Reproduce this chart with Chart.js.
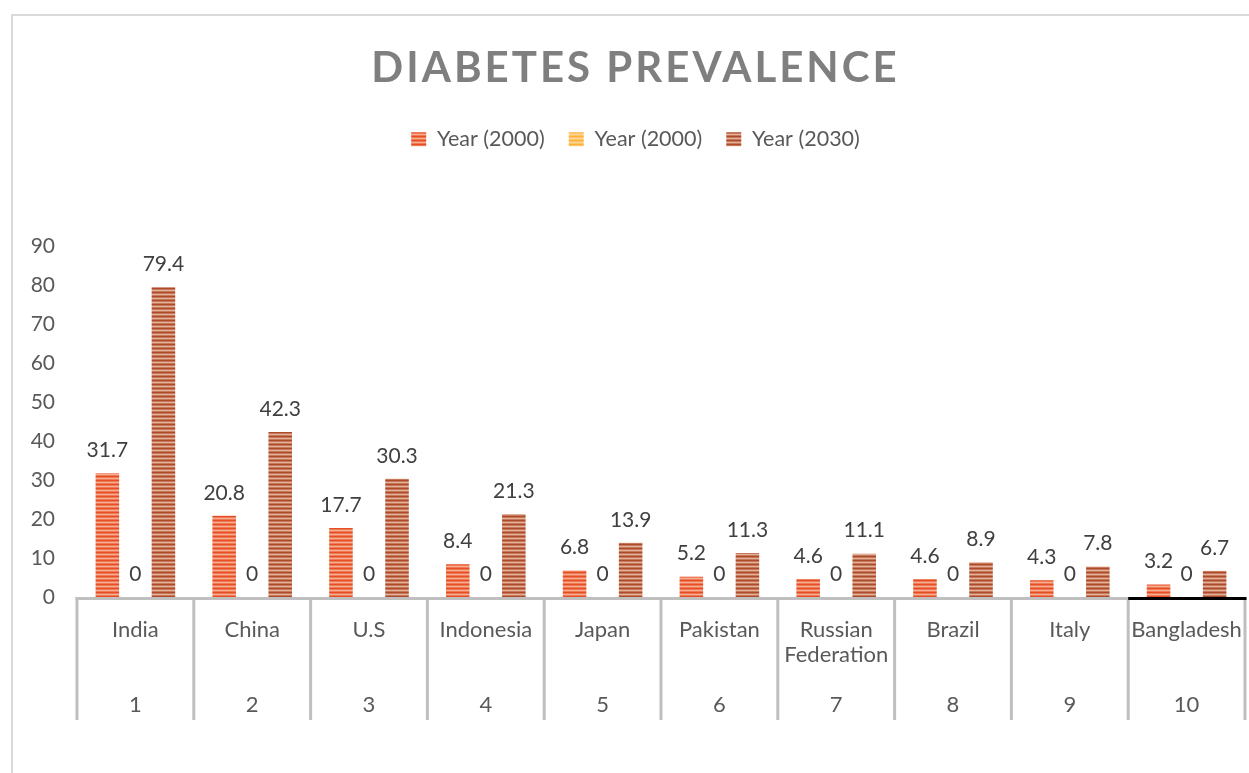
<!DOCTYPE html>
<html><head><meta charset="utf-8">
<script src="https://cdn.jsdelivr.net/npm/chart.js@4.4.1/dist/chart.umd.min.js"></script>
<style>html,body{margin:0;padding:0;background:#fff;overflow:hidden}</style>
</head><body>
<canvas id="c" width="1249" height="773" style="display:block;width:1249px;height:773px"></canvas>
<script>
// ---- data ----
const categories = ['India','China','U.S','Indonesia','Japan','Pakistan','Russian Federation','Brazil','Italy','Bangladesh'];
const ranks = ['1','2','3','4','5','6','7','8','9','10'];
const seriesNames = ['Year (2000)','Year (2000)','Year (2030)'];
const year2000 = [31.7,20.8,17.7,8.4,6.8,5.2,4.6,4.6,4.3,3.2];
const year2000b = [0,0,0,0,0,0,0,0,0,0];
const year2030 = [79.4,42.3,30.3,21.3,13.9,11.3,11.1,8.9,7.8,6.7];
const yTicks = [0,10,20,30,40,50,60,70,80,90];
const titleText = 'DIABETES PREVALENCE';

// ---- styles ----
const FONT = 'Lato';
const TXT = '#595959';

function stripes(dark, light, mid){
  const c = document.createElement('canvas'); c.width = 4; c.height = 4;
  const x = c.getContext('2d');
  x.fillStyle = dark; x.fillRect(0,0,4,4);
  x.fillStyle = mid; x.fillRect(0,1,4,1);
  x.fillStyle = light; x.fillRect(0,2,4,1);
  x.fillStyle = mid; x.fillRect(0,3,4,1);
  return document.getElementById('c').getContext('2d').createPattern(c,'repeat');
}
const pat1 = stripes('#e64d22','#f5ad94','#ee7a56');
const pat2 = stripes('#ffb13b','#ffd89a','#ffc46a');
const pat3 = stripes('#ad4a2a','#e2b19c','#c7795c');

const labels = categories.map((c,i)=>{
  const parts = c.includes(' ') ? c.split(' ') : [c, ''];
  return [parts[0], parts[1], '', ranks[i]];
});

const framePlugin = {
  id:'frame',
  beforeDraw(chart){
    const ctx = chart.ctx; ctx.save();
    ctx.strokeStyle = '#d9d9d9'; ctx.lineWidth = 2;
    ctx.beginPath(); ctx.moveTo(12, chart.height+2); ctx.lineTo(12,15); ctx.lineTo(chart.width+2,15); ctx.stroke();
    ctx.restore();
  },
  beforeLayout(chart){
    const lg = chart.legend;
    if (lg && !lg._wrapped){
      const orig = lg.fit;
      lg.fit = function(){ orig.call(this); this.height += 86; };
      lg._wrapped = true;
    }
    const tb = chart.titleBlock;
    if (tb && !tb._wrapped){
      const od = tb.draw;
      tb.draw = function(){ const c=this.ctx; c.save(); c.letterSpacing='3px'; od.call(this); c.restore(); };
      tb._wrapped = true;
    }
  },
  beforeDatasetsDraw(chart){
    const ctx = chart.ctx, xs = chart.scales.x, area = chart.chartArea;
    const n = chart.data.labels.length;
    const half = (xs.getPixelForValue(1) - xs.getPixelForValue(0))/2;
    const b = i => xs.getPixelForValue(i) - half;
    ctx.save();
    ctx.lineWidth = 3; ctx.strokeStyle = '#bfbfbf';
    for (let i=0;i<=n;i++){
      ctx.beginPath(); ctx.moveTo(b(i), area.bottom); ctx.lineTo(b(i), area.bottom+123); ctx.stroke();
    }
    const ay = area.bottom + 1.5;
    ctx.beginPath(); ctx.moveTo(b(0)-1.5, ay); ctx.lineTo(b(n-1), ay); ctx.stroke();
    ctx.strokeStyle = '#000';
    ctx.beginPath(); ctx.moveTo(b(n-1), ay); ctx.lineTo(b(n)+1.5, ay); ctx.stroke();
    ctx.restore();
  },
  afterDatasetsDraw(chart){
    const ctx = chart.ctx;
    ctx.save();
    ctx.font = '21px ' + FONT; ctx.fillStyle = '#404040';
    ctx.textAlign = 'center'; ctx.textBaseline = 'middle';
    chart.data.datasets.forEach((ds,di)=>{
      const meta = chart.getDatasetMeta(di);
      meta.data.forEach((el,i)=>{
        ctx.fillText(String(ds.data[i]), el.x, el.y - 23);
      });
    });
    ctx.restore();
  }
};

new Chart(document.getElementById('c'), {
  type:'bar',
  data:{
    labels,
    datasets:[
      {label:seriesNames[0], data:year2000, backgroundColor:pat1, borderWidth:0},
      {label:seriesNames[1], data:year2000b, backgroundColor:pat2, borderWidth:0},
      {label:seriesNames[2], data:year2030, backgroundColor:pat3, borderWidth:0}
    ]
  },
  options:{
    responsive:false, animation:false,
    layout:{padding:{left:26,right:4,top:0,bottom:36}},
    datasets:{bar:{categoryPercentage:0.72, barPercentage:0.84}},
    plugins:{
      title:{display:true, text:titleText, color:'#7f7f7f', font:{family:FONT,size:42,weight:'bold'}, padding:{top:43,bottom:11}},
      legend:{position:'top', labels:{font:{family:FONT,size:21.5}, color:TXT, boxWidth:15, boxHeight:14, padding:24}},
      tooltip:{enabled:false}
    },
    scales:{
      x:{grid:{display:false,drawTicks:false}, border:{display:false},
         afterFit(s){ s.paddingLeft = 0; s.paddingRight = 0; },
         ticks:{font:{family:FONT,size:22,lineHeight:25/22}, color:TXT, padding:20, maxRotation:0, autoSkip:false}},
      y:{min:yTicks[0], max:yTicks[yTicks.length-1], afterBuildTicks(s){ s.ticks = yTicks.map(v=>({value:v})); },
         afterFit(s){ s.width = 51; },
         grid:{display:false,drawTicks:false}, border:{display:false},
         ticks:{font:{family:FONT,size:21}, color:TXT, padding:22}}
    }
  },
  plugins:[framePlugin]
});
</script>
</body></html>
